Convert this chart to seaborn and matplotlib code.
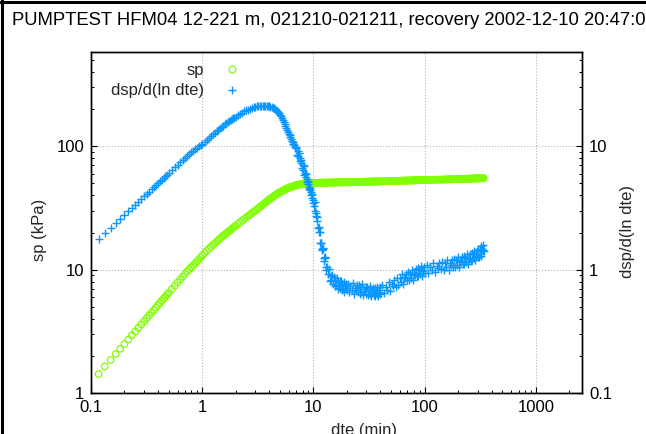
import numpy as np
import pandas as pd
import seaborn as sns
import matplotlib
matplotlib.use("Agg")
import matplotlib.pyplot as plt
from matplotlib.lines import Line2D
from matplotlib.ticker import FixedLocator, FixedFormatter, LogLocator, NullFormatter

# ---------------- data ----------------
# elapsed time dte (min), drawdown sp (kPa), derivative dsp/d(ln dte), per time segment
dte_a = [0.117, 0.133, 0.150, 0.167, 0.183, 0.200, 0.217, 0.233, 0.250, 0.267, 0.283, 0.300,
         0.317, 0.333, 0.350, 0.367, 0.383, 0.400, 0.417, 0.433, 0.450, 0.467, 0.483, 0.500,
         0.533, 0.567, 0.600, 0.633, 0.667, 0.700, 0.733, 0.767, 0.800, 0.833, 0.867, 0.900,
         0.933, 0.967, 1.00]
sp_a = [1.43, 1.65, 1.86, 2.08, 2.29, 2.51, 2.73, 2.95, 3.17, 3.39, 3.61, 3.83,
        4.05, 4.27, 4.50, 4.72, 4.94, 5.17, 5.39, 5.62, 5.84, 6.07, 6.29, 6.52,
        6.97, 7.42, 7.88, 8.33, 8.79, 9.25, 9.70, 10.1, 10.5, 10.9, 11.3, 11.7,
        12.1, 12.6, 13.0]
dsp_a = [1.76, 1.97, 2.18, 2.38, 2.58, 2.78, 2.98, 3.17, 3.36, 3.55, 3.74, 3.93,
         4.11, 4.29, 4.48, 4.66, 4.84, 5.02, 5.19, 5.37, 5.54, 5.72, 5.89, 6.06,
         6.40, 6.73, 7.06, 7.38, 7.70, 8.00, 8.30, 8.60, 8.90, 9.18, 9.46, 9.73,
         10.0, 10.25, 10.5]

dte_b = [1.05, 1.10, 1.15, 1.20, 1.25, 1.30, 1.35, 1.40, 1.45, 1.50,
         1.55, 1.60, 1.65, 1.70, 1.75, 1.80, 1.85, 1.90, 1.95, 2.00]
sp_b = [13.6, 14.2, 14.8, 15.3, 15.9, 16.4, 16.9, 17.4, 17.9, 18.4,
        18.85, 19.3, 19.75, 20.2, 20.6, 21.0, 21.45, 21.9, 22.3, 22.7]
dsp_b = [10.9, 11.3, 11.7, 12.1, 12.5, 12.9, 13.25, 13.6, 13.95, 14.3,
         14.65, 15.0, 15.3, 15.6, 15.9, 16.2, 16.5, 16.8, 17.05, 17.3]

dte_c = [2.1, 2.2, 2.3, 2.4, 2.5, 2.6, 2.7, 2.8, 2.9, 3.0, 3.1, 3.2, 3.3, 3.4, 3.5,
         3.6, 3.7, 3.8, 3.9, 4.0, 4.1, 4.2, 4.3, 4.4, 4.5, 4.6, 4.7, 4.8, 4.9, 5.0]
sp_c = [23.5, 24.3, 25.1, 25.8, 26.6, 27.3, 28.0, 28.7, 29.4, 30.0, 30.8, 31.5, 32.2, 32.9, 33.6,
        34.3, 35.0, 35.7, 36.4, 37.0, 37.6, 38.2, 38.8, 39.3, 39.9, 40.4, 41.0, 41.5, 42.0, 42.5]
dsp_c = [17.8, 18.3, 18.7, 19.1, 19.5, 19.8, 20.1, 20.4, 20.6, 20.8, 20.95, 21.1, 21.2, 21.3, 21.3,
         21.3, 21.25, 21.2, 21.1, 21.0, 20.85, 20.7, 20.5, 20.3, 20.0, 19.7, 19.4, 19.0, 18.5, 18.0]

dte_d = [5.1, 5.2, 5.3, 5.4, 5.5, 5.6, 5.7, 5.8, 5.9, 6.0, 6.1, 6.2, 6.3, 6.4, 6.5, 6.6, 6.7,
         6.8, 6.9, 7.0, 7.1, 7.2, 7.3, 7.4, 7.5, 7.6, 7.7, 7.8, 7.9, 8.0, 8.1, 8.2, 8.3, 8.4,
         8.5, 8.6, 8.7, 8.8, 8.9, 9.0, 9.1, 9.2, 9.3, 9.4, 9.5, 9.6, 9.7, 9.8, 9.9, 10.0]
sp_d = [42.9, 43.3, 43.7, 44.0, 44.4, 44.8, 45.1, 45.4, 45.7, 46.0, 46.3, 46.6, 46.8, 47.1, 47.3,
        47.5, 47.7, 47.9, 48.1, 48.3, 48.4, 48.6, 48.7, 48.9, 49.0, 49.1, 49.2, 49.3, 49.4, 49.5,
        49.55, 49.6, 49.7, 49.75, 49.8, 49.85, 49.9, 49.9, 49.95, 50.0, 50.05, 50.1, 50.1, 50.15,
        50.2, 50.2, 50.25, 50.25, 50.3, 50.3]
dsp_d = [17.4, 16.9, 16.3, 15.7, 15.1, 14.5, 14.0, 13.5, 13.0, 12.6, 12.2, 11.8, 11.4, 11.1, 10.8,
         10.5, 10.2, 9.9, 9.6, 9.9, 8.55, 9.06, 8.25, 8.88, 7.52, 7.96, 7.35, 7.74, 6.65, 7.0,
         6.4, 6.85, 5.83, 6.12, 5.68, 5.94, 5.13, 5.41, 4.95, 5.24, 4.47, 4.69, 4.41, 4.61,
         3.99, 4.22, 3.83, 4.12, 3.48, 3.67]

dte_e = [10.125, 10.25, 10.375, 10.5, 10.625, 10.75, 10.875, 11.0, 11.125, 11.25, 11.375, 11.5,
         11.625, 11.75, 11.875, 12.0, 12.125, 12.25, 12.375, 12.5, 12.625, 12.75, 12.875, 13.0,
         13.25, 13.5, 13.75, 14.0, 14.25, 14.5, 14.75, 15.0, 15.25, 15.5, 15.75, 16.0, 16.25, 16.5,
         16.75, 17.0, 17.25, 17.5, 17.75, 18.0, 18.25, 18.5, 18.75, 19.0, 19.25, 19.5, 19.75, 20.0]
sp_e = [50.33, 50.35, 50.38, 50.4, 50.43, 50.45, 50.48, 50.5, 50.5, 50.5, 50.53, 50.55,
        50.55, 50.55, 50.58, 50.6, 50.6, 50.6, 50.63, 50.65, 50.65, 50.65, 50.68, 50.7,
        50.7, 50.7, 50.75, 50.75, 50.8, 50.8, 50.8, 50.8, 50.85, 50.85, 50.85, 50.9, 50.9, 50.9,
        50.9, 50.95, 50.95, 50.95, 51.0, 51.0, 51.0, 51.0, 51.05, 51.05, 51.05, 51.1, 51.1, 51.1]
dsp_e = [3.25, 3.51, 2.98, 2.70, 2.86, 2.65, 2.47, 2.16, 2.01, 2.20, 2.01, 1.64,
         1.66, 1.66, 1.46, 1.45, 1.49, 1.46, 1.25, 1.18, 1.27, 1.24, 1.05, 1.00,
         1.05, 0.92, 1.01, 0.81, 0.89, 0.83, 0.90, 0.77, 0.87, 0.74, 0.82, 0.75, 0.86, 0.70,
         0.79, 0.74, 0.81, 0.71, 0.81, 0.69, 0.77, 0.71, 0.80, 0.66, 0.74, 0.71, 0.77, 0.68]

dte_f = [20.5, 21.0, 21.5, 22.0, 22.5, 23.0, 23.5, 24.0, 24.5, 25.0, 25.5, 26.0, 26.5, 27.0,
         27.5, 28.0, 28.5, 29.0, 29.5, 30.0, 30.5, 31.0, 31.5, 32.0, 32.5, 33.0, 33.5, 34.0,
         34.5, 35.0, 35.5, 36.0, 36.5, 37.0, 37.5, 38.0, 38.5, 39.0, 39.5, 40.0]
sp_f = [51.1, 51.1, 51.15, 51.15, 51.2, 51.2, 51.2, 51.25, 51.25, 51.3, 51.3, 51.35, 51.35, 51.4,
        51.4, 51.45, 51.5, 51.5, 51.55, 51.6, 51.6, 51.6, 51.65, 51.65, 51.7, 51.7, 51.7, 51.75,
        51.75, 51.8, 51.8, 51.8, 51.85, 51.85, 51.9, 51.9, 51.9, 51.95, 51.95, 52.0]
dsp_f = [0.77, 0.66, 0.74, 0.68, 0.78, 0.64, 0.71, 0.69, 0.75, 0.66, 0.75, 0.64, 0.72, 0.66,
         0.76, 0.63, 0.70, 0.67, 0.73, 0.64, 0.73, 0.63, 0.70, 0.64, 0.74, 0.61, 0.68, 0.66,
         0.71, 0.63, 0.71, 0.61, 0.69, 0.64, 0.73, 0.61, 0.68, 0.66, 0.72, 0.64]

dte_g = [41.5, 43.0, 44.5, 46.0, 47.5, 49.0, 50.5, 52.0, 53.5, 55.0, 56.5, 58.0, 59.5, 61.0,
         62.5, 64.0, 65.5, 67.0, 68.5, 70.0, 71.5, 73.0, 74.5, 76.0, 77.5, 79.0, 80.5, 82.0,
         83.5, 85.0, 86.5, 88.0, 89.5, 91.0, 92.5, 94.0, 95.5, 97.0, 98.5, 100.0]
sp_g = [52.0, 52.05, 52.1, 52.1, 52.15, 52.2, 52.2, 52.25, 52.3, 52.35, 52.4, 52.45, 52.5, 52.5,
        52.55, 52.6, 52.6, 52.65, 52.7, 52.7, 52.75, 52.75, 52.8, 52.8, 52.85, 52.9, 52.9, 52.9,
        52.95, 53.0, 53.0, 53.05, 53.1, 53.1, 53.1, 53.15, 53.15, 53.2, 53.2, 53.2]
dsp_g = [0.75, 0.65, 0.73, 0.69, 0.80, 0.67, 0.76, 0.74, 0.82, 0.73, 0.85, 0.75, 0.85, 0.79,
         0.92, 0.77, 0.87, 0.85, 0.93, 0.83, 0.96, 0.83, 0.93, 0.86, 1.00, 0.83, 0.94, 0.91,
         1.01, 0.89, 1.03, 0.89, 1.00, 0.93, 1.07, 0.89, 1.00, 0.97, 1.06, 0.94]

dte_h = [104, 108, 112, 116, 120, 124, 128, 132, 136, 140, 144, 148, 152, 156, 160, 164, 168,
         172, 176, 180, 184, 188, 192, 196, 200, 204, 208, 212, 216, 220, 224, 228, 232, 236,
         240, 244, 248, 252, 256, 260, 264, 268, 272, 276, 280, 284, 288, 292, 296, 300, 304,
         308, 312, 316, 320, 324, 328, 332, 336, 340]
sp_h = [53.25, 53.3, 53.35, 53.4, 53.45, 53.5, 53.5, 53.55, 53.6, 53.65, 53.7, 53.75, 53.8, 53.8,
        53.85, 53.9, 53.9, 53.95, 54.0, 54.0, 54.05, 54.1, 54.1, 54.15, 54.2, 54.2, 54.25, 54.3,
        54.3, 54.35, 54.35, 54.4, 54.4, 54.45, 54.5, 54.5, 54.55, 54.6, 54.6, 54.65, 54.65, 54.7,
        54.7, 54.75, 54.75, 54.8, 54.8, 54.85, 54.85, 54.9, 54.9, 54.95, 54.95, 55.0, 55.0, 55.0,
        55.05, 55.05, 55.1, 55.1]
dsp_h = [1.09, 0.94, 1.06, 0.99, 1.14, 0.95, 1.07, 1.04, 1.14, 1.01, 1.16, 1.00, 1.13, 1.05,
         1.20, 1.00, 1.13, 1.09, 1.19, 1.05, 1.22, 1.05, 1.19, 1.10, 1.27, 1.05, 1.18, 1.15,
         1.26, 1.11, 1.28, 1.11, 1.25, 1.16, 1.33, 1.11, 1.25, 1.22, 1.34, 1.18, 1.37, 1.19,
         1.34, 1.24, 1.43, 1.19, 1.35, 1.30, 1.43, 1.27, 1.47, 1.27, 1.44, 1.34, 1.55, 1.30,
         1.48, 1.44, 1.58, 1.41]

x_ticks = [0.1, 1, 10, 100, 1000]
x_tick_labels = ["0.1", "1", "10", "100", "1000"]
yl_ticks = [1, 10, 100]
yl_tick_labels = ["1", "10", "100"]
yr_ticks = [0.1, 1, 10]
yr_tick_labels = ["0.1", "1", "10"]

title = "PUMPTEST HFM04 12-221 m, 021210-021211, recovery 2002-12-10 20:47:00"
series_names = ["sp", "dsp/d(ln dte)"]

# ---------------- styling ----------------
GREEN = "#7fff00"
BLUE = "#0a96ff"
W, H = 646, 434

sns.set_theme(style="white")
plt.rcParams["font.family"] = ["Liberation Sans", "DejaVu Sans"]
plt.rcParams["font.size"] = 12

df = pd.DataFrame({
    "dte": dte_a + dte_b + dte_c + dte_d + dte_e + dte_f + dte_g + dte_h,
    "sp": sp_a + sp_b + sp_c + sp_d + sp_e + sp_f + sp_g + sp_h,
    "dsp": dsp_a + dsp_b + dsp_c + dsp_d + dsp_e + dsp_f + dsp_g + dsp_h,
})

fig = plt.figure(figsize=(W / 100, H / 100), dpi=100)
ax = fig.add_axes([91 / W, 1 - 393.3 / H, (582 - 91) / W, (393.3 - 52.3) / H])
ax2 = ax.twinx()

sns.scatterplot(data=df, x="dte", y="sp", ax=ax, marker="o", s=22,
                facecolors="none", edgecolor=GREEN, linewidth=0.9, legend=False, zorder=3)
sns.scatterplot(data=df, x="dte", y="dsp", ax=ax2, marker="+", s=36,
                color=BLUE, linewidth=1.0, legend=False, zorder=3)

for a in (ax, ax2):
    a.set_xscale("log")
    a.set_yscale("log")
ax.set_xlim(0.1, 2600)
ax.set_ylim(1, 575)
ax2.set_ylim(0.1, 57.5)

ax.xaxis.set_major_locator(FixedLocator(x_ticks))
ax.xaxis.set_major_formatter(FixedFormatter(x_tick_labels))
ax.xaxis.set_minor_locator(LogLocator(base=10, subs=np.arange(2, 10)))
ax.xaxis.set_minor_formatter(NullFormatter())
ax.yaxis.set_major_locator(FixedLocator(yl_ticks))
ax.yaxis.set_major_formatter(FixedFormatter(yl_tick_labels))
ax.yaxis.set_minor_locator(LogLocator(base=10, subs=np.arange(2, 10)))
ax.yaxis.set_minor_formatter(NullFormatter())
ax2.yaxis.set_major_locator(FixedLocator(yr_ticks))
ax2.yaxis.set_major_formatter(FixedFormatter(yr_tick_labels))
ax2.yaxis.set_minor_locator(LogLocator(base=10, subs=np.arange(2, 10)))
ax2.yaxis.set_minor_formatter(NullFormatter())

for a in (ax, ax2):
    a.tick_params(which="major", direction="in", length=4.5, width=0.8, color="black",
                  labelsize=12, pad=5, labelcolor="black")
    a.tick_params(which="minor", direction="in", length=2.5, width=0.7, color="black")
    for s in a.spines.values():
        s.set_color("black")
        s.set_linewidth(1.0)
ax.tick_params(axis="y", which="both", left=True, right=False)
ax2.tick_params(axis="y", which="both", right=True, left=False)
ax.tick_params(axis="x", which="both", bottom=True, top=False)

ax.grid(True, which="major", linestyle=":", color="#b4b4b4", linewidth=0.8)
ax.set_axisbelow(True)

ax.set_xlabel("dte (min)", fontsize=12)
ax.set_ylabel("sp (kPa)", fontsize=12)
ax2.set_ylabel("dsp/d(ln dte)", fontsize=12)
ax.xaxis.set_label_coords((364 - 91) / (582 - 91), -(431 - 393.3) / (393.3 - 52.3))
ax.xaxis.label.set_va("center")
ax.yaxis.set_label_coords(-(91 - 47) / (582 - 91), (393.3 - 230) / (393.3 - 52.3))
ax2.yaxis.set_label_coords(1 + (620 - 582) / (582 - 91), (393.3 - 232) / (393.3 - 52.3))

handles = [
    Line2D([], [], marker="o", ls="none", mfc="none", mec=GREEN, ms=5, mew=0.9),
    Line2D([], [], marker="+", ls="none", color=BLUE, ms=6, mew=1.0),
]
leg = ax2.legend(handles, series_names, loc="upper right", markerfirst=False,
                 frameon=False, fontsize=12, handlelength=1.0, handletextpad=1.15,
                 labelspacing=0.33, borderpad=0, borderaxespad=0,
                 bbox_to_anchor=(240 / W, 1 - 63 / H), bbox_transform=fig.transFigure)

fig.text(12 / W, 1 - 20.5 / H, title, fontsize=13.3, ha="left", va="center", color="black")

# frame at left / top edge of the image
fig.add_artist(Line2D([1.5 / W, 1.5 / W], [0, 1], transform=fig.transFigure,
                      color="black", linewidth=2.2))
fig.add_artist(Line2D([0, 1], [1 - 1.5 / H, 1 - 1.5 / H], transform=fig.transFigure,
                      color="black", linewidth=2.2))

fig.savefig("out.png", dpi=100)
